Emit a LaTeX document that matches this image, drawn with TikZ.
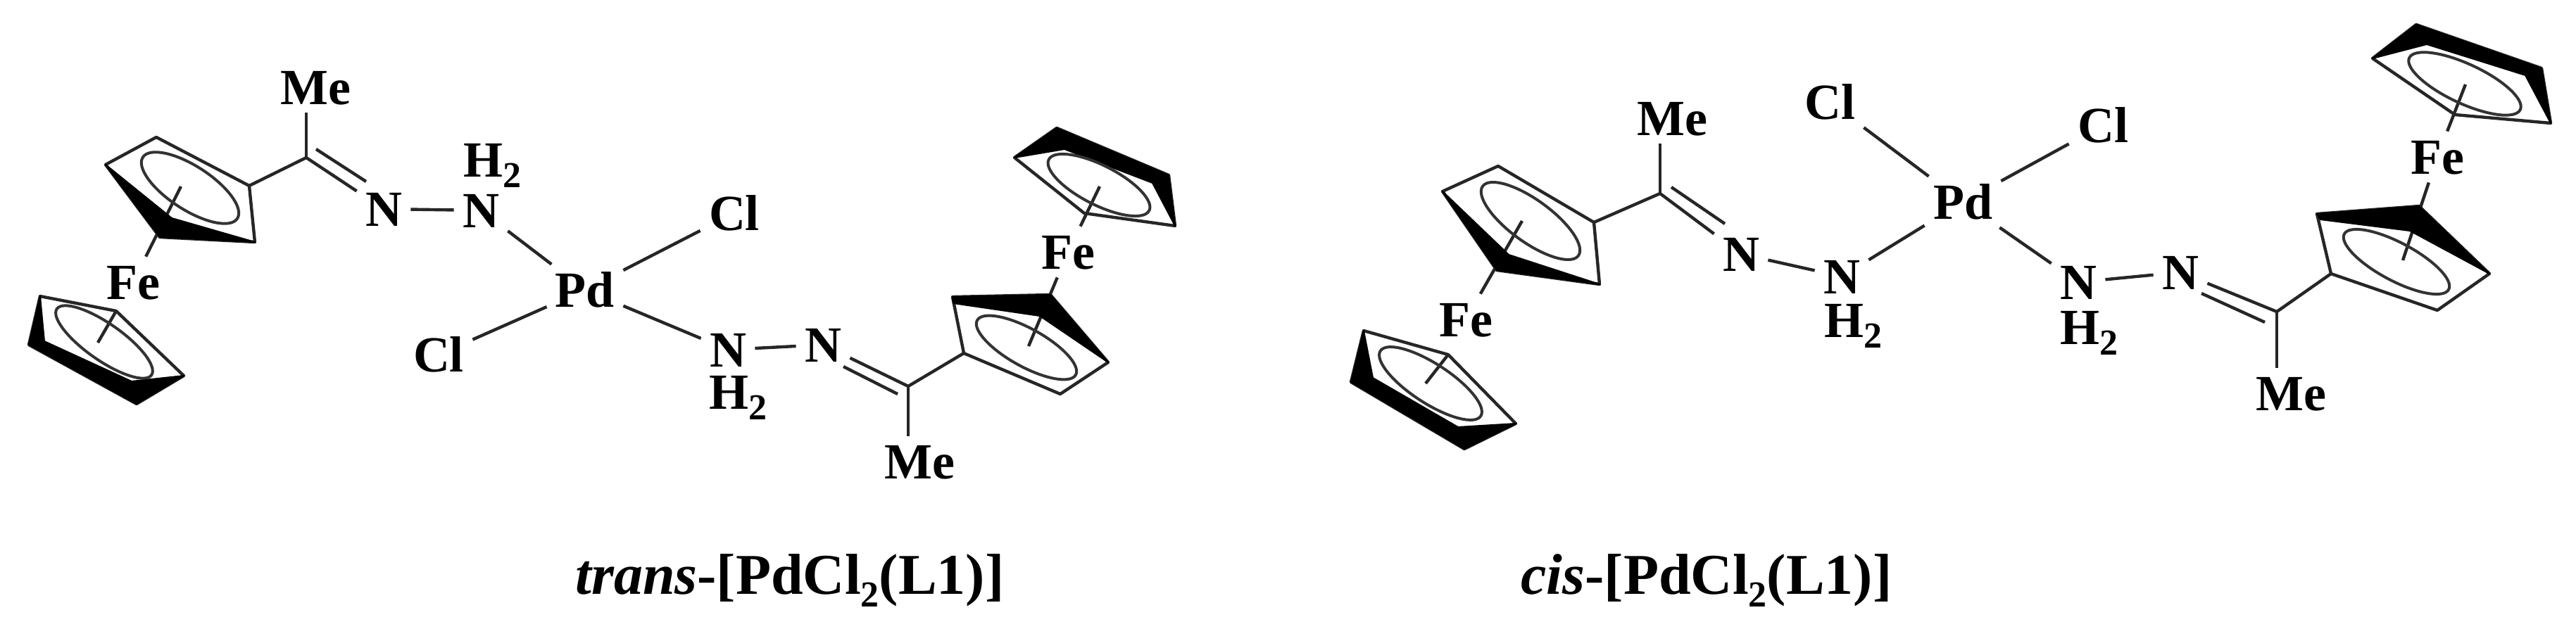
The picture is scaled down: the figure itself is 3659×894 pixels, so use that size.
\documentclass[tikz,border=0pt]{standalone}
\usepackage{fontspec}
\setmainfont{Liberation Serif}
\newcommand\subtwo{\raisebox{-0.22em}{\fontsize{26pt}{26pt}\selectfont 2}}
\tikzset{
  atom/.style={inner sep=6pt,font=\fontsize{36pt}{36pt}\selectfont\bfseries,text height=24pt,text depth=0pt},
  hydro/.style={atom,inner sep=0pt},
  caption/.style={inner sep=0pt,anchor=base west,font=\fontsize{41pt}{41pt}\selectfont\bfseries},
  bond/.style={draw=black!85,line width=2.2pt},
  ringline/.style={draw=black!85,line width=2.2pt,line join=round},
  wedge/.style={fill=black,draw=black,line width=1pt,line join=round},
  oval/.style={draw=black!80,line width=2pt},
}
\begin{document}
\begin{tikzpicture}[x=0.5pt,y=-0.5pt]
\useasboundingbox (0,0) rectangle (3659,894);
\fill[white] (0,0) rectangle (3659,894);

% ---------- trans ----------
\node[atom] (tMe1) at (448,124) {Me};
\node[atom] (tN1) at (545,297) {N};
\node[atom] (tN2) at (683,299) {N};
\node[hydro] (tH1) at (699,227) {H\subtwo};
\node[atom] (tPd) at (831,412) {Pd};
\node[atom] (tCl1) at (623,504) {Cl};
\node[atom] (tCl2) at (1043,303) {Cl};
\node[atom] (tFe1) at (189,401) {Fe};
\node[atom] (tN3) at (1034,497) {N};
\node[atom] (tN4) at (1169,490) {N};
\node[hydro] (tH2) at (1048,557) {H\subtwo};
\node[atom] (tMe2) at (1306,656) {Me};
\node[atom] (tFe2) at (1517,358) {Fe};
\coordinate (tC1) at (435,224);
\coordinate (tR1) at (354,264);
\coordinate (tD1a) at (449,212);
\coordinate (tD1b) at (520,258);
\coordinate (tC2) at (1290,549);
\coordinate (tR2) at (1369,502);
\coordinate (tD2a) at (1198,521);
\coordinate (tD2b) at (1275,560);
\coordinate (tF1a) at (257,265);
\coordinate (tF1b) at (139,487);
\coordinate (tF1c) at (165,442);
\coordinate (tF2a) at (1461,492);
\coordinate (tF2b) at (1562,265);

\draw[bond] (tC1) -- (tC1 |- tMe1.south);
\draw[bond] (tC1) -- (tR1);
\draw[bond] (tC1) -- (tN1);
\draw[bond] (tD1a) -- (tD1b);
\draw[bond] (tN1) -- (tN2);
\draw[bond] (tN2) -- (tPd);
\draw[bond] (tPd) -- (tCl1);
\draw[bond] (tPd) -- (tCl2);
\draw[bond] (tPd) -- (tN3);
\draw[bond] (tN3) -- (tN4);
\draw[bond] (tN4) -- (tC2);
\draw[bond] (tD2a) -- (tD2b);
\draw[bond] (tC2) -- (tC2 |- tMe2.north);
\draw[bond] (tC2) -- (tR2);
\draw[bond] (tFe1) -- (tF1a);
\draw[bond] (tF1b) -- (tF1c);
\draw[bond] (tFe2) -- (tF2a);
\draw[bond] (tFe2) -- (tF2b);

% left upper ring
\draw[ringline] (222,195) -- (150,234) -- (227,337) -- (362,344) -- (354,264) -- cycle;
\fill[wedge] (150,234) -- (227,337) -- (362,344) -- (244,310) -- cycle;
\draw[oval,rotate around={-33:(270,267)}] (270,267) ellipse [x radius=80,y radius=31];
% left lower ring
\draw[ringline] (57,421) -- (41,490) -- (194,574) -- (261,534) -- (165,442) -- cycle;
\fill[wedge] (57,421) -- (41,490) -- (194,574) -- (261,534) -- (187,542) -- (63,485) -- cycle;
\draw[oval,rotate around={-35:(148,486)}] (148,486) ellipse [x radius=82,y radius=26];
% right lower ring
\draw[ringline] (1369,502) -- (1353,422) -- (1492,419) -- (1574,515) -- (1506,560) -- cycle;
\fill[wedge] (1353,422) -- (1492,419) -- (1574,515) -- (1477,449) -- (1354,431) -- cycle;
\draw[oval,rotate around={-29:(1458,494)}] (1458,494) ellipse [x radius=80,y radius=27];
% right upper ring
\draw[ringline] (1501,182) -- (1441,224) -- (1540,303) -- (1669,321) -- (1660,249) -- cycle;
\fill[wedge] (1441,224) -- (1501,182) -- (1660,249) -- (1669,321) -- (1637,260) -- (1512,212) -- cycle;
\draw[oval,rotate around={-27:(1561,263)}] (1561,263) ellipse [x radius=80,y radius=28];

% ---------- cis ----------
\node[atom] (cMe1) at (2375,168) {Me};
\node[atom] (cCl1) at (2599,145) {Cl};
\node[atom] (cN1) at (2473,361) {N};
\node[atom] (cN2) at (2616,393) {N};
\node[hydro] (cH1) at (2632,455) {H\subtwo};
\node[atom] (cPd) at (2788,287) {Pd};
\node[atom] (cCl2) at (2987,178) {Cl};
\node[atom] (cN3) at (2952,401) {N};
\node[hydro] (cH2) at (2967,465) {H\subtwo};
\node[atom] (cN4) at (3097,387) {N};
\node[atom] (cMe2) at (3254,559) {Me};
\node[atom] (cFe1) at (2082,454) {Fe};
\node[atom] (cFe2) at (3462,223) {Fe};
\coordinate (cC1) at (2358,275);
\coordinate (cR1) at (2264,316);
\coordinate (cD1a) at (2374,266);
\coordinate (cD1b) at (2450,318);
\coordinate (cC2) at (3234,443);
\coordinate (cR2) at (3311,389);
\coordinate (cD2a) at (3127,417);
\coordinate (cD2b) at (3217,458);
\coordinate (cF1a) at (2162,314);
\coordinate (cF1b) at (2025,545);
\coordinate (cF1c) at (2057,504);
\coordinate (cF2a) at (3413,370);
\coordinate (cF2b) at (3502,120);

\draw[bond] (cC1) -- (cC1 |- cMe1.south);
\draw[bond] (cC1) -- (cR1);
\draw[bond] (cC1) -- (cN1);
\draw[bond] (cD1a) -- (cD1b);
\draw[bond] (cN1) -- (cN2);
\draw[bond] (cN2) -- (cPd);
\draw[bond] (cPd) -- (cCl1);
\draw[bond] (cPd) -- (cCl2);
\draw[bond] (cPd) -- (cN3);
\draw[bond] (cN3) -- (cN4);
\draw[bond] (cN4) -- (cC2);
\draw[bond] (cD2a) -- (cD2b);
\draw[bond] (cC2) -- (cC2 |- cMe2.north);
\draw[bond] (cC2) -- (cR2);
\draw[bond] (cFe1) -- (cF1a);
\draw[bond] (cF1b) -- (cF1c);
\draw[bond] (cFe2) -- (cF2a);
\draw[bond] (cFe2) -- (cF2b);

% left upper ring
\draw[ringline] (2128,236) -- (2049,272) -- (2126,384) -- (2272,404) -- (2264,316) -- cycle;
\fill[wedge] (2049,272) -- (2126,384) -- (2272,404) -- (2143,362) -- cycle;
\draw[oval,rotate around={-36:(2174,314)}] (2174,314) ellipse [x radius=84,y radius=30];
% left lower ring
\draw[ringline] (1937,470) -- (1919,543) -- (2080,638) -- (2153,602) -- (2057,504) -- cycle;
\fill[wedge] (1937,470) -- (1919,543) -- (2080,638) -- (2153,602) -- (2071,607) -- (1950,537) -- cycle;
\draw[oval,rotate around={-33:(2032,545)}] (2032,545) ellipse [x radius=85,y radius=28];
% right lower ring
\draw[ringline] (3311,389) -- (3291,304) -- (3436,293) -- (3536,389) -- (3462,441) -- cycle;
\fill[wedge] (3291,304) -- (3436,293) -- (3536,389) -- (3423,328) -- (3296,312) -- cycle;
\draw[oval,rotate around={-28:(3404,372)}] (3404,372) ellipse [x radius=84,y radius=27];
% right upper ring
\draw[ringline] (3432,35) -- (3370,83) -- (3487,163) -- (3623,175) -- (3610,97) -- cycle;
\fill[wedge] (3370,83) -- (3432,35) -- (3610,97) -- (3623,175) -- (3587,107) -- (3447,63) -- cycle;
\draw[oval,rotate around={-25:(3501,119)}] (3501,119) ellipse [x radius=87,y radius=28];

% ---------- captions ----------
\node[caption] (capT) at (817,844) {\textit{trans}-[PdCl\subtwo(L1)]};
\node[caption] (capC) at (2160,844) {\textit{cis}-[PdCl\subtwo(L1)]};
\end{tikzpicture}
\end{document}
